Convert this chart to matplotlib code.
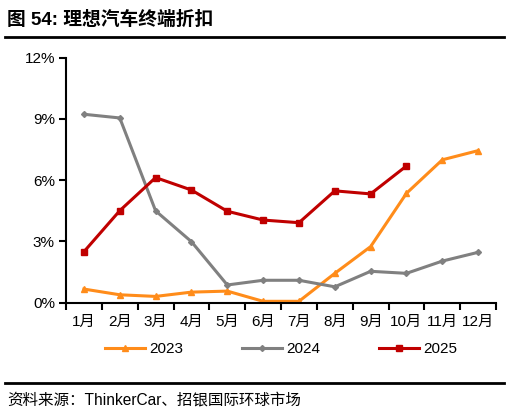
import matplotlib
matplotlib.use("Agg")
import matplotlib.pyplot as plt
from matplotlib.lines import Line2D
from matplotlib.ticker import FuncFormatter, FixedLocator

plt.rcParams["font.family"] = ["Liberation Sans", "Noto Sans CJK SC", "DejaVu Sans"]

# Data (discount %)
months = ["1月", "2月", "3月", "4月", "5月", "6月", "7月", "8月", "9月", "10月", "11月", "12月"]
disc_2023 = [0.67, 0.39, 0.31, 0.52, 0.57, 0.07, 0.07, 1.44, 2.75, 5.36, 7.0, 7.45]
disc_2024 = [9.23, 9.05, 4.5, 2.99, 0.87, 1.1, 1.1, 0.78, 1.54, 1.44, 2.04, 2.47]
disc_2025 = [2.5, 4.51, 6.13, 5.52, 4.48, 4.05, 3.92, 5.48, 5.33, 6.7]

fig = plt.figure(figsize=(5.13, 4.17), dpi=100)
ax = fig.add_axes([0.1287, 0.274, 0.967 - 0.1287, 0.8616 - 0.274])

x = list(range(len(months)))
ax.plot(x, disc_2023, color="#FF8C1A", lw=2.2, marker="^", ms=5, label="2023")
ax.plot(x, disc_2024, color="#808080", lw=2.2, marker="D", ms=3, label="2024")
ax.plot(x[:len(disc_2025)], disc_2025, color="#C00000", lw=2.2, marker="s", ms=4.5, label="2025")

ax.set_xlim(-0.5, 11.5)
ax.set_ylim(0, 12)
ax.set_yticks([0, 3, 6, 9, 12])
ax.yaxis.set_major_formatter(FuncFormatter(lambda v, p: f"{v:.0f}%"))
ax.set_xticks(x)
ax.set_xticklabels(months)
ax.xaxis.set_minor_locator(FixedLocator([i + 0.5 for i in range(-1, 12)]))
ax.tick_params(axis="x", which="major", length=0, pad=9, labelsize=11)
ax.tick_params(axis="x", which="minor", length=5, width=1.5, direction="out")
ax.tick_params(axis="y", length=5, width=1.5, direction="out", labelsize=11, pad=3)

for s in ["top", "right"]:
    ax.spines[s].set_visible(False)
ax.spines["left"].set_linewidth(1.5)
ax.spines["bottom"].set_linewidth(1.5)

fig.legend(loc="center", bbox_to_anchor=(0.548, 0.163), ncol=3, frameon=False,
           fontsize=11, handlelength=2.6, columnspacing=3.9, handletextpad=0.25)

# Title and frame lines
fig.text(0.014, 0.952, "图 54: 理想汽车终端折扣", fontsize=13.5, fontweight="bold",
         ha="left", va="center")
fig.add_artist(Line2D([0.01, 0.982], [0.911, 0.911], color="black", lw=2))
fig.add_artist(Line2D([0.01, 0.982], [0.082, 0.082], color="black", lw=2))
fig.text(0.014, 0.04, "资料来源：ThinkerCar、招银国际环球市场", fontsize=11.2,
         ha="left", va="center")

fig.savefig("out.png", dpi=100)
